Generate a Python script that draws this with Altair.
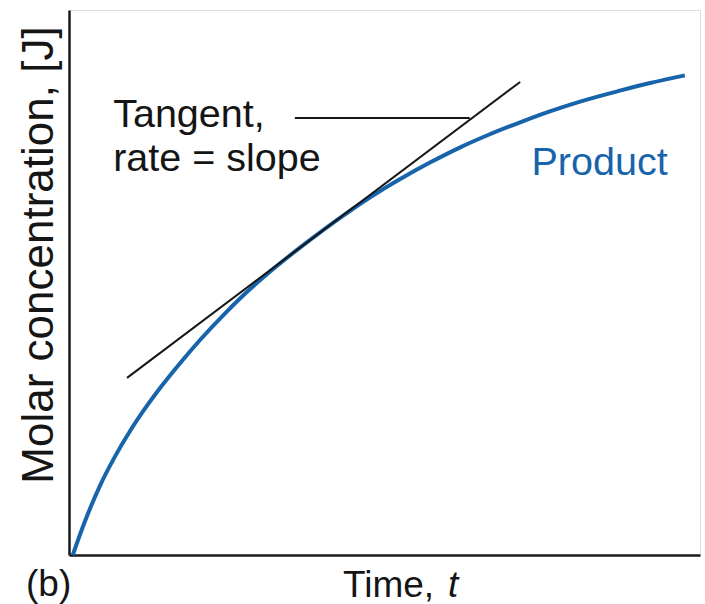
import altair as alt
import pandas as pd

# Product concentration [J] against time t (arbitrary units)
time_pts = [0.06, 0.25, 0.49, 0.73, 0.97, 1.20, 1.44, 1.76, 2.08, 2.47, 2.87,
            3.26, 3.66, 3.98, 4.29, 4.61, 4.93, 5.25, 5.72, 6.20, 6.67, 7.15,
            7.62, 8.10, 8.73, 9.21, 9.76]
conc_pts = [0.000, 0.061, 0.127, 0.181, 0.228, 0.268, 0.306, 0.352, 0.395, 0.443, 0.488,
            0.527, 0.564, 0.592, 0.618, 0.644, 0.668, 0.690, 0.720, 0.748, 0.772, 0.794,
            0.814, 0.832, 0.852, 0.866, 0.880]

# Tangent to the curve and the leader line pointing to it
tangent_time = [0.92, 7.15]
tangent_conc = [0.325, 0.868]
leader_time = [3.58, 6.35]
leader_conc = [0.802, 0.802]

# In-plot labels (left-aligned anchors in data units)
label_text = ["Tangent,", "rate = slope"]
label_time = [0.70, 0.70]
label_conc = [0.785, 0.705]
product_label = ["Product"]
product_time = [7.33]
product_conc = [0.697]

BLUE = "#1764ab"
INK = "#151515"
FONT = "Liberation Sans"

x_scale = alt.Scale(domain=[0, 10], nice=False, zero=False)
y_scale = alt.Scale(domain=[0, 1], nice=False)
x_axis = alt.Axis(title=None, labels=False, ticks=False, grid=False,
                  domainColor="#1a1a1a", domainWidth=2.5)
y_axis = alt.Axis(title=None, labels=False, ticks=False, grid=False,
                  domainColor="#1a1a1a", domainWidth=2.5)


def xy(tf="t:Q", cf="c:Q"):
    return dict(x=alt.X(tf, scale=x_scale, axis=x_axis),
                y=alt.Y(cf, scale=y_scale, axis=y_axis))


curve = alt.Chart(pd.DataFrame({"t": time_pts, "c": conc_pts})).mark_line(
    color=BLUE, strokeWidth=4, interpolate="monotone"
).encode(order="t:Q", **xy())

tangent = alt.Chart(pd.DataFrame({"t": tangent_time, "c": tangent_conc})).mark_line(
    color=INK, strokeWidth=2
).encode(**xy())

leader = alt.Chart(pd.DataFrame({"t": leader_time, "c": leader_conc})).mark_line(
    color=INK, strokeWidth=2
).encode(**xy())

labels = alt.Chart(pd.DataFrame({"t": label_time, "c": label_conc, "txt": label_text})).mark_text(
    align="left", baseline="alphabetic", font=FONT, fontSize=39.5, color=INK
).encode(text="txt:N", **xy())

product = alt.Chart(pd.DataFrame({"t": product_time, "c": product_conc, "txt": product_label})).mark_text(
    align="left", baseline="alphabetic", font=FONT, fontSize=39.5, color=BLUE
).encode(text="txt:N", **xy())


def outside_text(txt, px, py, **kw):
    return alt.Chart(pd.DataFrame({"txt": [txt]})).mark_text(
        font=FONT, color=INK, baseline="alphabetic", **kw
    ).encode(text="txt:N", x=alt.value(px), y=alt.value(py))


x_title = outside_text("Time, ", 274, 587, align="left", fontSize=37)
x_title_t = outside_text("t", 379, 587, align="left", fontSize=37, fontStyle="italic")
panel = outside_text("(b)", -43, 586, align="left", fontSize=37)
y_title = outside_text("Molar concentration, [J]", -16, 245, align="center",
                       fontSize=44, angle=270)

chart = alt.layer(
    curve, tangent, leader, labels, product, x_title, x_title_t, panel, y_title
).properties(
    width=631, height=545,
    autosize=alt.AutoSizeParams(type="none"),
    padding={"left": 69, "top": 10, "right": 5, "bottom": 49},
).configure_view(stroke=None).configure(background="white")

chart.save("out.html", embed_options={"renderer": "svg", "actions": False})
